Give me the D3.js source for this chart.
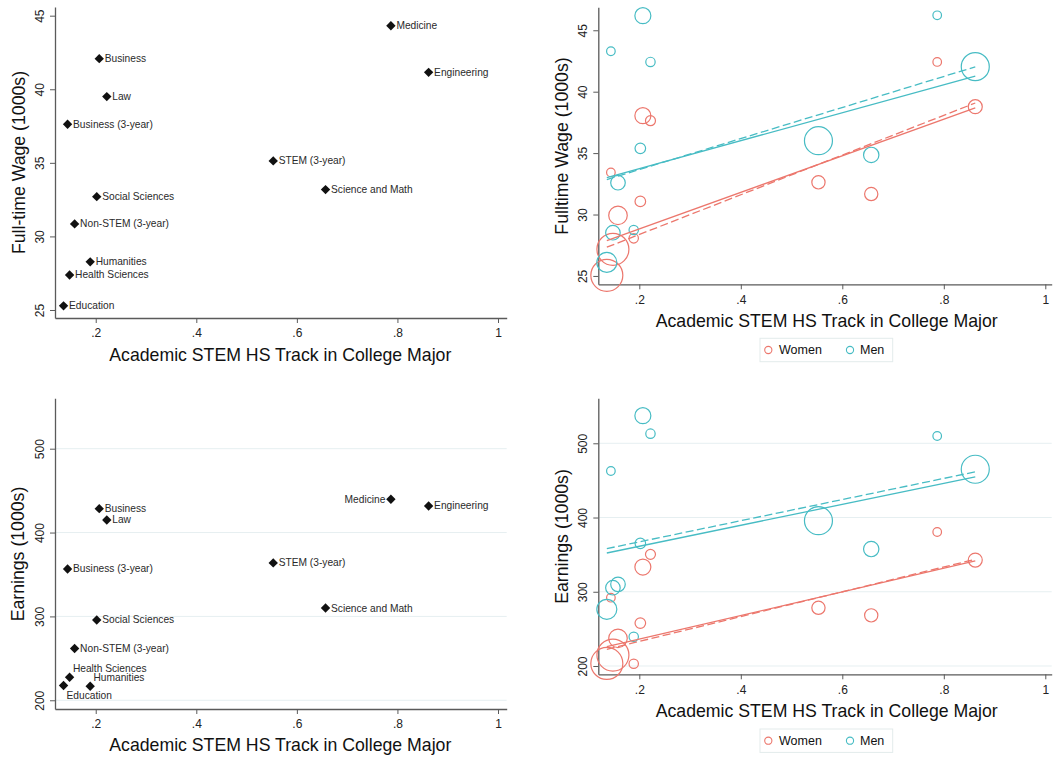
<!DOCTYPE html>
<html>
<head>
<meta charset="utf-8">
<script src="https://cdn.jsdelivr.net/npm/d3@7"></script>
<style>
  html, body { margin: 0; padding: 0; background: #fff; }
  svg { display: block; font-family: "Liberation Sans", Arial, Helvetica, sans-serif; }
</style>
</head>
<body>
<svg id="chart" width="1055" height="758"></svg>
<script>
// ---- Data -------------------------------------------------------------
const majors = ["Medicine", "Engineering", "Business", "Law", "Business (3-year)",
  "STEM (3-year)", "Science and Math", "Social Sciences", "Non-STEM (3-year)",
  "Humanities", "Health Sciences", "Education"];

// share of students from the academic STEM high-school track
const stemShare = [0.787, 0.862, 0.207, 0.222, 0.144, 0.553, 0.657, 0.202, 0.158, 0.189, 0.148, 0.136];

// pooled outcomes
const wage = [44.32, 41.15, 42.08, 39.5, 37.62, 35.13, 33.18, 32.7, 30.85, 28.27, 27.38, 25.28];
const earnings = [439.7, 431.7, 428.5, 415, 356.6, 363.8, 310, 295.8, 261.8, 216.8, 227.4, 217.6];

// outcomes by gender
const wageWomen = [42.42, 38.78, 38.05, 37.64, 33.43, 32.62, 31.67, 31.07, 29.93, 28.06, 27.17, 25.05];
const wageMen = [46.22, 42.04, 46.19, 42.42, 43.29, 36.01, 34.85, 35.39, 32.59, 28.74, 28.52, 26.1];
const earnWomen = [380.5, 342.7, 333.3, 350.4, 292, 278.4, 268.2, 257.8, 237.2, 203, 214.7, 203.5];
const earnMen = [509.8, 465, 537.2, 513, 462.7, 395.7, 357.5, 365.2, 310, 239.4, 305.4, 276.3];

// relative group sizes (marker area)
const weightWomen = [18.5, 49, 64, 25, 18.5, 44, 44, 28, 86, 22, 256, 256];
const weightMen = [18.5, 196, 64, 22, 18.5, 196, 59, 28, 53, 22, 53, 100];

// fitted lines: [intercept, slope]; solid and dashed fits
const wageFitWomen = [25.85, 14.88], wageFitWomenAlt = [25.14, 16.17];
const wageFitMen = [31.46, 11.38], wageFitMenAlt = [31.13, 12.64];
const earnFitWomen = [204.4, 159.1], earnFitWomenAlt = [199.7, 167.1];
const earnFitMen = [333.0, 141.2], earnFitMenAlt = [338.7, 142.5];

// tick values
const xTicks = [0.2, 0.4, 0.6, 0.8, 1];
const wageTicks = [25, 30, 35, 40, 45];
const earnTicks = [200, 300, 400, 500];

// label clock positions for the pooled earnings panel (3 = right)
const earnLabelClock = [9, 3, 3, 3, 3, 3, 3, 3, 3, 1, 1, 5];

const groups = ["Women", "Men"];

// ---- Styling ---------------------------------------------------------
const RED = "#EC776D";
const TEAL = "#47BCC4";
const AXIS = "#5a5a5a";
const GRID = "#e6eff1";

const svg = d3.select("#chart");
const fmtTick = v => v === 1 ? "1" : d3.format(".1f")(v).replace(/^0/, "");

const rScale = d3.scaleSqrt().domain([0, 256]).range([0, 16]);

function drawAxes(g, x, y, yTicks, opts) {
  const [x0] = x.range();
  const [yb] = y.range();

  if (opts.grid) {
    g.append("g").selectAll("line").data(yTicks).join("line")
      .attr("x1", x0).attr("x2", opts.gridRight)
      .attr("y1", d => y(d)).attr("y2", d => y(d))
      .attr("stroke", GRID).attr("stroke-width", 1);
  }

  // x axis
  const xa = g.append("g").attr("transform", `translate(0,${yb})`)
    .call(d3.axisBottom(x).tickValues(xTicks).tickFormat(fmtTick).tickSize(5).tickSizeOuter(0));
  xa.select(".domain").attr("stroke", AXIS).attr("stroke-width", 1.3);
  xa.selectAll(".tick line").attr("stroke", AXIS);
  xa.selectAll(".tick text").attr("font-size", 12).attr("fill", "#222")
    .attr("font-family", "Liberation Sans, Arial, sans-serif").attr("dy", "0.95em");

  // y axis, labels rotated
  const ya = g.append("g").attr("transform", `translate(${x0},0)`)
    .call(d3.axisLeft(y).tickValues(yTicks).tickFormat(d3.format("d")).tickSize(5).tickSizeOuter(0));
  ya.select(".domain").attr("stroke", AXIS).attr("stroke-width", 1.3);
  ya.selectAll(".tick line").attr("stroke", AXIS);
  ya.selectAll(".tick text")
    .attr("font-size", 12).attr("fill", "#222")
    .attr("font-family", "Liberation Sans, Arial, sans-serif")
    .attr("x", null).attr("dy", null)
    .attr("text-anchor", "middle")
    .attr("transform", `translate(${opts.yTickX - x0},0) rotate(-90)`)
    .attr("dominant-baseline", "central");

  // titles
  g.append("text")
    .attr("x", opts.xTitle[0]).attr("y", opts.xTitle[1])
    .attr("text-anchor", "middle").attr("dominant-baseline", "central")
    .attr("font-size", 17.7).attr("fill", "#111")
    .text("Academic STEM HS Track in College Major");
  g.append("text")
    .attr("transform", `translate(${opts.yTitle[0]},${opts.yTitle[1]}) rotate(-90)`)
    .attr("text-anchor", "middle").attr("dominant-baseline", "central")
    .attr("font-size", 17.7).attr("fill", "#111")
    .text(opts.yLabel);
}

// ---- Pooled panels (diamonds with labels) -----------------------------
function pooledPanel(values, yTicks, yDomain, yRange, clock, opts) {
  const g = svg.append("g");
  const x = d3.scaleLinear().domain([0.119, 1.0173]).range([55, 506.7]);
  const y = d3.scaleLinear().domain(yDomain).range(yRange);
  drawAxes(g, x, y, yTicks, opts);

  const pts = majors.map((m, i) => ({ m, x: stemShare[i], y: values[i], c: clock ? clock[i] : 3 }));

  // diamond = square rotated by 45 degrees
  g.append("g").selectAll("path").data(pts).join("path")
    .attr("d", d3.symbol().type(d3.symbolSquare).size(44))
    .attr("transform", d => `translate(${x(d.x)},${y(d.y)}) rotate(45)`)
    .attr("fill", "#111");

  const off = {
    3: { dx: 5.5, dy: 0, anchor: "start" },
    9: { dx: -5.5, dy: 0, anchor: "end" },
    1: { dx: 3.3, dy: -8.5, anchor: "start" },
    5: { dx: 3, dy: 9.6, anchor: "start" }
  };
  g.append("g").selectAll("text").data(pts).join("text")
    .attr("x", d => x(d.x) + off[d.c].dx)
    .attr("y", d => y(d.y) + off[d.c].dy)
    .attr("text-anchor", d => off[d.c].anchor)
    .attr("dominant-baseline", "central")
    .attr("font-size", 10.2).attr("fill", "#2a2a2a")
    .text(d => d.m);
}

// ---- Gender panels (weighted circles with fit lines) -------------------
function genderPanel(women, men, fits, yTicks, yDomain, yRange, opts) {
  const g = svg.append("g");
  const x = d3.scaleLinear().domain([0.1192, 1.0126]).range([598.3, 1051.7]);
  const y = d3.scaleLinear().domain(yDomain).range(yRange);
  drawAxes(g, x, y, yTicks, opts);

  const series = [
    { name: groups[0], vals: women, w: weightWomen, color: RED },
    { name: groups[1], vals: men, w: weightMen, color: TEAL }
  ];
  series.forEach(s => {
    g.append("g").selectAll("circle")
      .data(majors.map((m, i) => ({ x: stemShare[i], y: s.vals[i], w: s.w[i] })))
      .join("circle")
      .attr("cx", d => x(d.x)).attr("cy", d => y(d.y)).attr("r", d => rScale(d.w))
      .attr("fill", "none").attr("stroke", s.color).attr("stroke-width", 1.2);
  });

  const xmin = d3.min(stemShare), xmax = d3.max(stemShare);
  fits.forEach(f => {
    const line = d3.line().x(d => x(d)).y(d => y(f.coef[0] + f.coef[1] * d));
    g.append("path").attr("d", line([xmin, xmax]))
      .attr("fill", "none").attr("stroke", f.color).attr("stroke-width", 1.3)
      .attr("stroke-dasharray", f.dashed ? "8,3.5" : null);
  });

  // legend
  const lg = g.append("g");
  lg.append("rect").attr("x", 760).attr("y", opts.legendY - 11.7)
    .attr("width", 132.7).attr("height", 23.4)
    .attr("fill", "#fff").attr("stroke", "#e3ecec").attr("stroke-width", 1);
  const items = [{ name: groups[0], color: RED, cx: 768.3, tx: 779 }, { name: groups[1], color: TEAL, cx: 850, tx: 860 }];
  items.forEach(it => {
    lg.append("circle").attr("cx", it.cx).attr("cy", opts.legendY).attr("r", 3.6)
      .attr("fill", "none").attr("stroke", it.color).attr("stroke-width", 1.1);
    lg.append("text").attr("x", it.tx).attr("y", opts.legendY)
      .attr("dominant-baseline", "central").attr("font-size", 12.5).attr("fill", "#111")
      .text(it.name);
  });
}

pooledPanel(wage, wageTicks, [24.456, 45.59], [318, 7], null, {
  yTickX: 40, xTitle: [280.3, 355], yTitle: [19.3, 162.5], yLabel: "Full-time Wage (1000s)"
});

pooledPanel(earnings, earnTicks, [189.6, 560.1], [709, 398.3], earnLabelClock, {
  yTickX: 40, xTitle: [280.3, 745], yTitle: [18.3, 554], yLabel: "Earnings (1000s)",
  grid: true, gridRight: 506.7
});

genderPanel(wageWomen, wageMen, [
  { coef: wageFitWomen, color: RED, dashed: false },
  { coef: wageFitWomenAlt, color: RED, dashed: true },
  { coef: wageFitMen, color: TEAL, dashed: false },
  { coef: wageFitMenAlt, color: TEAL, dashed: true }
], wageTicks, [24.32, 46.87], [284.3, 7.3], {
  yTickX: 583.3, xTitle: [826.7, 320.7], yTitle: [561.7, 146], yLabel: "Fulltime Wage (1000s)",
  legendY: 350
});

genderPanel(earnWomen, earnMen, [
  { coef: earnFitWomen, color: RED, dashed: false },
  { coef: earnFitWomenAlt, color: RED, dashed: true },
  { coef: earnFitMen, color: TEAL, dashed: false },
  { coef: earnFitMenAlt, color: TEAL, dashed: true }
], earnTicks, [188.8, 560.6], [674.3, 398.3], {
  yTickX: 583.3, xTitle: [826.7, 711], yTitle: [561.7, 536.5], yLabel: "Earnings (1000s)",
  grid: true, gridRight: 1051.7, legendY: 740.7
});
</script>
</body>
</html>
